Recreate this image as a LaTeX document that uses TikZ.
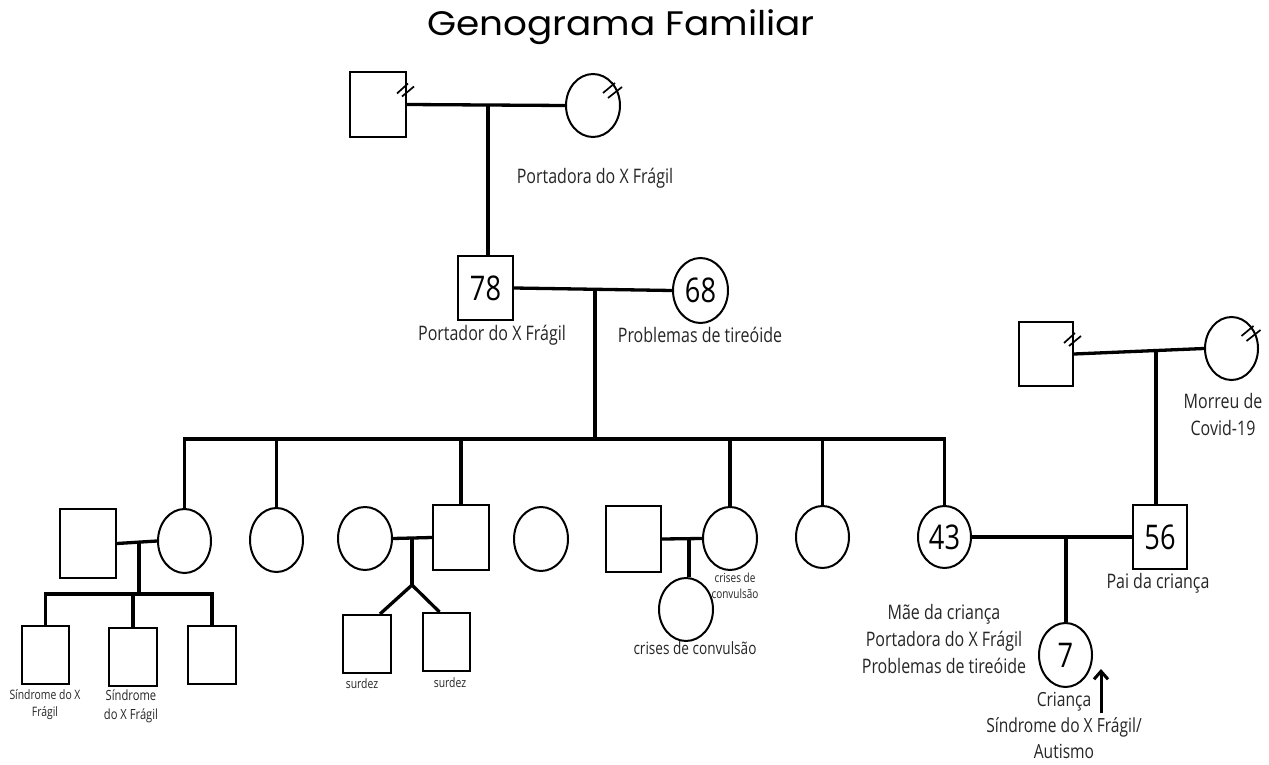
\documentclass[tikz,border=0pt]{standalone}
\usepackage{fontspec}
\setmainfont{Open Sans}[FakeStretch=0.8]
\newfontfamily\titlefont{Poppins}[FakeStretch=1.1]
\usetikzlibrary{arrows.meta,shapes.geometric}
\begin{document}
\begin{tikzpicture}[x=1pt,y=-1pt,
  person/.style={draw,line width=2pt,inner sep=0pt,font=\fontsize{34}{34}\selectfont},
  male/.style={person,rectangle},
  female/.style={person,ellipse},
  link/.style={line width=3.3pt,line join=miter},
  slash/.style={line width=1.7pt},
  lbl/.style={font=\fontsize{20}{27}\selectfont,align=center,text=black!85,inner sep=0pt},
  lblsm/.style={font=\fontsize{13}{17}\selectfont,align=center,text=black!85,inner sep=0pt}]
\fill[white] (0,0) rectangle (1269,765);
\useasboundingbox (0,0) rectangle (1269,765);

% title
\node[font=\titlefont\fontsize{34}{34}\selectfont,anchor=base,inner sep=0pt] (title) at (621,36) {Genograma Familiar};

% generation 1 (left)
\node[male,minimum width=56pt,minimum height=65pt] (gp1) at (378,104.5) {};
\node[female,minimum width=54pt,minimum height=63pt] (gm1) at (593,105.5) {};
% generation 1 (right)
\node[male,minimum width=54pt,minimum height=64pt] (gp2) at (1046,354) {};
\node[female,minimum width=53pt,minimum height=63pt] (gm2) at (1231.5,348.5) {};

% generation 2
\node[male,minimum width=55pt,minimum height=64pt] (f78) at (485.5,288) {78};
\node[female,minimum width=55pt,minimum height=65pt] (m68) at (700.5,290.5) {68};

% generation 3
\node[male,minimum width=56pt,minimum height=69pt] (h1) at (88,543.5) {};
\node[female,minimum width=53pt,minimum height=64pt] (d1) at (184.5,541) {};
\node[female,minimum width=53pt,minimum height=64pt] (d2) at (276.5,540) {};
\node[female,minimum width=54pt,minimum height=63pt] (w3) at (365,538.5) {};
\node[male,minimum width=56pt,minimum height=65pt] (s3) at (461,537.5) {};
\node[female,minimum width=54pt,minimum height=64pt] (d4) at (541,539) {};
\node[male,minimum width=55pt,minimum height=66pt] (h5) at (633.5,539) {};
\node[female,minimum width=54pt,minimum height=63pt] (d5) at (730,538.5) {};
\node[female,minimum width=53pt,minimum height=62pt] (d6) at (822.5,537) {};
\node[female,minimum width=53pt,minimum height=62pt] (d43) at (944.5,537) {43};
\node[male,minimum width=54pt,minimum height=64pt] (f56) at (1160,537) {56};

% generation 4
\node[male,minimum width=47pt,minimum height=58pt] (k1) at (45.5,655) {};
\node[male,minimum width=48pt,minimum height=58pt] (k2) at (133,657) {};
\node[male,minimum width=48pt,minimum height=58pt] (k3) at (212,655) {};
\node[male,minimum width=48pt,minimum height=58pt] (t1) at (367,644) {};
\node[male,minimum width=47pt,minimum height=58pt] (t2) at (446.5,642) {};
\node[female,minimum width=54pt,minimum height=63pt] (kc) at (686,609.5) {};
\node[female,minimum width=53pt,minimum height=64pt] (k7) at (1065.5,655) {7};

% deceased marks
\foreach \n in {gp1,gp2}{
  \draw[slash] ([shift={(-10,-11)}]\n.east) -- ([shift={(1,-21)}]\n.east);
  \draw[slash] ([shift={(-5,-8)}]\n.east) -- ([shift={(7,-18)}]\n.east);
}
\foreach \n in {gm1,gm2}{
  \draw[slash] ([shift={(10,-12.5)}]\n.center) -- ([shift={(22,-22.5)}]\n.center);
  \draw[slash] ([shift={(15,-7.5)}]\n.center) -- ([shift={(29,-18.5)}]\n.center);
}

% connectors generation 1 -> 2
\draw[link] (gp1.east) -- (gm1.west);
\coordinate (c1) at (488,104.5);
\draw[link] (c1) -- (c1 |- f78.north);

\draw[link] (gp2.east) -- (gm2.west);
\coordinate (c7) at (1156,351);
\draw[link] (c7) -- (c7 |- f56.north);

% generation 2 -> 3
\draw[link] (f78.east) -- (m68.west);
\coordinate (c2) at (595,289);
\coordinate (sib) at (595,439);
\draw[link] (c2) -- (sib);
\draw[link] (d1.north) -- (d1.north |- sib) -- (d43.north |- sib) -- (d43.north);
\foreach \n in {d2,s3,d5,d6}{
  \draw[link] (\n.north) -- (\n.north |- sib);
}

% family h1 + d1
\draw[link] (h1.east) -- (d1.west);
\coordinate (c3) at (139,542);
\coordinate (kl) at (139,594);
\draw[link] (c3) -- (kl);
\draw[link] (k1.north) -- (k1.north |- kl) -- (k3.north |- kl) -- (k3.north);
\draw[link] (k2.north) -- (k2.north |- kl);

% family w3 + s3 (twins)
\draw[link] (w3.east) -- (s3.west);
\coordinate (c4) at (412,538);
\coordinate (fork) at (412,585);
\draw[link] (c4) -- (fork);
\draw[link] (fork) -- ([xshift=13pt]t1.north);
\draw[link] (fork) -- ([xshift=-7pt]t2.north);

% family h5 + d5
\draw[link] (h5.east) -- (d5.west);
\coordinate (c5) at (689,538);
\draw[link] (c5) -- (c5 |- kc.north);

% family 43 + 56
\draw[link] (d43.east) -- (f56.west);
\coordinate (c6) at (1066,537);
\draw[link] (c6) -- (c6 |- k7.north);

% index arrow
\coordinate (arrS) at (1101,713);
\coordinate (arrE) at (1101,669);
\draw[line width=3pt,-{Straight Barb[length=8pt,width=14pt]}] (arrS) -- (arrE);

% labels
\node[lbl] (l1) at (595,178) {Portadora do X Frágil};
\node[lbl] (l2) at (492,335) {Portador do X Frágil};
\node[lbl] (l3) at (700,335) {Problemas de tireóide};
\node[lbl] (l4) at (1223,414.5) {Morreu de\\Covid-19};
\node[lbl] (l5) at (1158,583) {Pai da criança};
\node[lbl] (l6) at (944,639) {Mãe da criança\\Portadora do X Frágil\\Problemas de tireóide};
\node[lbl,font=\fontsize{19.5}{26}\selectfont] (l7) at (1064,725) {Criança\\Síndrome do X Frágil/\\Autismo};
\node[lblsm] (l8) at (45,704.5) {Síndrome do X\\Frágil};
\node[lblsm,font=\fontsize{14}{19}\selectfont] (l9) at (131,706.5) {Síndrome\\do X Frágil};
\node[lblsm] (l10) at (362,684) {surdez};
\node[lblsm] (l11) at (450,683) {surdez};
\node[lblsm,font=\fontsize{12.5}{16}\selectfont] (l12) at (735,586) {crises de\\convulsão};
\node[lbl,font=\fontsize{17}{20}\selectfont] (l13) at (695,648) {crises de convulsão};
\end{tikzpicture}
\end{document}
